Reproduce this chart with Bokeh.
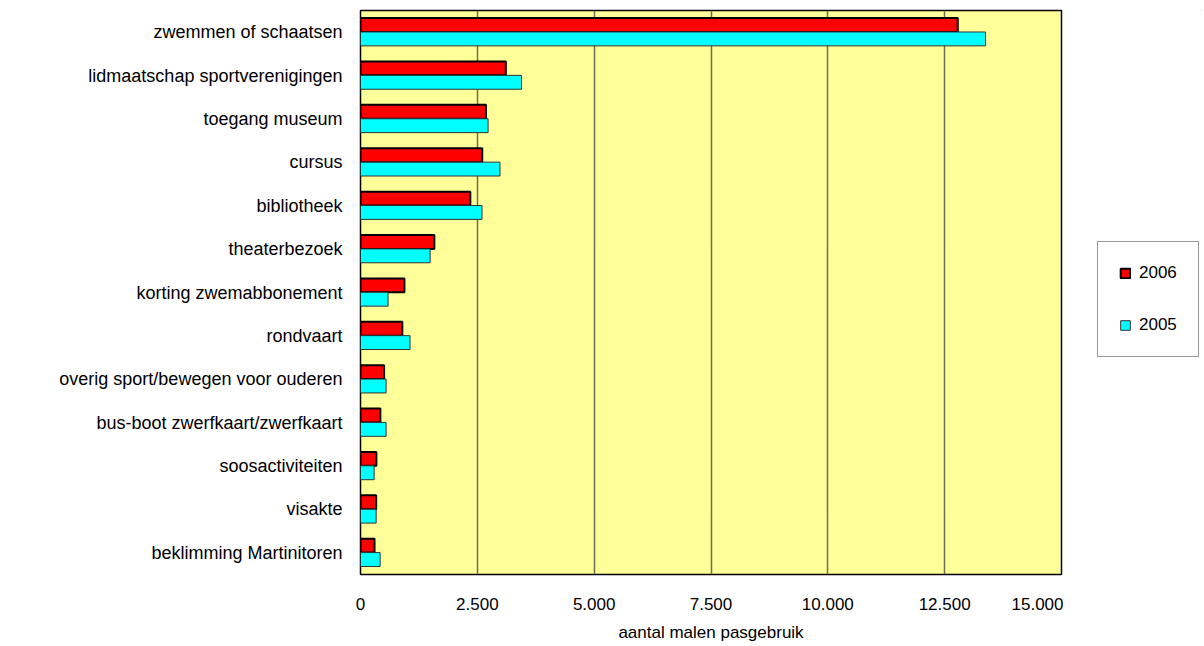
from bokeh.plotting import figure
from bokeh.layouts import row
from bokeh.models import FactorRange, Range1d, FixedTicker, Legend, LegendItem, ColumnDataSource
from bokeh.transform import dodge
from bokeh.embed import file_html
from bokeh.resources import INLINE

categories = [
    "zwemmen of schaatsen",
    "lidmaatschap sportverenigingen",
    "toegang museum",
    "cursus",
    "bibliotheek",
    "theaterbezoek",
    "korting zwemabbonement",
    "rondvaart",
    "overig sport/bewegen voor ouderen",
    "bus-boot zwerfkaart/zwerfkaart",
    "soosactiviteiten",
    "visakte",
    "beklimming Martinitoren",
]
values_2006 = [12780, 3110, 2685, 2605, 2350, 1580, 940, 895, 505, 425, 340, 335, 300]
values_2005 = [13375, 3445, 2730, 2985, 2600, 1490, 590, 1060, 548, 548, 292, 335, 420]
tick_values = [0, 2500, 5000, 7500, 10000, 12500, 15000]
tick_labels = ["0", "2.500", "5.000", "7.500", "10.000", "12.500", "15.000"]
series_names = ["2006", "2005"]

FONT = "Liberation Sans"
RED_STYLE = dict(fill_color="#FF0000", line_color="black", line_width=2)
CYAN_STYLE = dict(fill_color="#00FFFF", line_color="#333333", line_width=1)

src = ColumnDataSource(dict(cat=categories, v2006=values_2006, v2005=values_2005))

p = figure(
    width=1063, height=644,
    y_range=FactorRange(*reversed(categories)),
    x_range=Range1d(0, 15000),
    output_backend="svg", toolbar_location=None,
    min_border_left=360, min_border_right=2, min_border_top=10, min_border_bottom=70,
)
p.background_fill_color = "#FFFF99"
p.border_fill_color = "white"
p.outline_line_color = "black"
p.outline_line_width = 1.5

p.hbar(y=dodge("cat", 0.165, range=p.y_range), right="v2006", left=0, height=0.32,
       source=src, **RED_STYLE)
p.hbar(y=dodge("cat", -0.155, range=p.y_range), right="v2005", left=0, height=0.32,
       source=src, **CYAN_STYLE)

p.xaxis.ticker = FixedTicker(ticks=tick_values)
p.xaxis.major_label_overrides = {v: l for v, l in zip(tick_values, tick_labels)}
p.xaxis.axis_label = "aantal malen pasgebruik"
p.xaxis.axis_label_text_font = FONT
p.xaxis.axis_label_text_font_style = "normal"
p.xaxis.axis_label_text_font_size = "17px"
p.xaxis.axis_label_text_color = "black"
p.xaxis.axis_label_standoff = 10
p.xaxis.major_label_text_font = FONT
p.xaxis.major_label_text_font_size = "17px"
p.xaxis.major_label_text_color = "black"
p.xaxis.major_label_standoff = 23
p.xaxis.major_tick_line_color = None
p.xaxis.major_tick_out = 0
p.xaxis.major_tick_in = 0
p.xaxis.minor_tick_line_color = None
p.xaxis.axis_line_color = None

p.yaxis.major_label_text_font = FONT
p.yaxis.major_label_text_font_size = "18px"
p.yaxis.major_label_text_color = "black"
p.yaxis.major_label_standoff = 18
p.yaxis.major_tick_line_color = None
p.yaxis.major_tick_out = 0
p.yaxis.major_tick_in = 0
p.yaxis.axis_line_color = None

p.xgrid.grid_line_color = "#6e6e50"
p.xgrid.grid_line_width = 1.5
p.ygrid.grid_line_color = None

# separate panel holding only the legend
lg = figure(
    width=139, height=644, x_range=Range1d(0, 1), y_range=Range1d(0, 1),
    output_backend="svg", toolbar_location=None,
    min_border_left=0, min_border_right=0, min_border_top=0, min_border_bottom=0,
)
lg.axis.visible = False
lg.grid.visible = False
lg.outline_line_color = None
lg.background_fill_color = None
lg.border_fill_color = None
# legend swatches only: placed entirely outside the visible range of this panel
k06 = lg.hbar(y=[5], right=[6], left=[5], height=0.1, **RED_STYLE)
k05 = lg.hbar(y=[5], right=[6], left=[5], height=0.1, **CYAN_STYLE)

legend = Legend(
    items=[LegendItem(label=series_names[0], renderers=[k06]),
           LegendItem(label=series_names[1], renderers=[k05])],
    location=(34, 217),
    orientation="vertical",
    border_line_color="#333333", border_line_width=1,
    background_fill_color="white", background_fill_alpha=1,
    label_text_font=FONT, label_text_font_size="17px", label_text_color="black",
    glyph_width=12, glyph_height=12,
    label_standoff=8, spacing=32, padding=21, margin=0,
    label_height=12, label_width=36,
)
lg.add_layout(legend, "center")

layout = row(p, lg, spacing=0)
open("out.html", "w").write(file_html(layout, INLINE))
